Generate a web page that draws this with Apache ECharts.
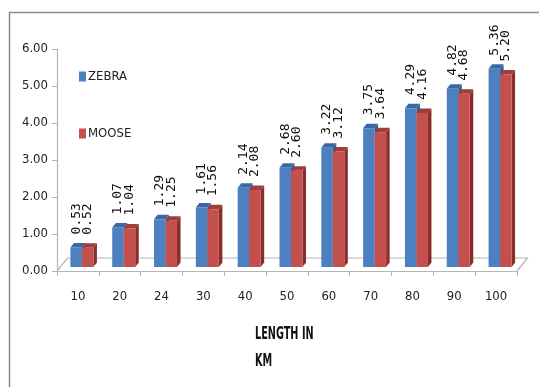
<!DOCTYPE html>
<html>
<head>
<meta charset="utf-8">
<script src="https://cdn.jsdelivr.net/npm/echarts@6/dist/echarts.min.js"></script>
<style>
  html, body { margin: 0; padding: 0; background: #fff; }
  #chart { width: 539px; height: 387px; }
</style>
</head>
<body>
<div id="chart"></div>
<script>
// Distance categories (km) and the two series plotted against them
const categories = ['10', '20', '24', '30', '40', '50', '60', '70', '80', '90', '100'];
const zebra = [0.53, 1.07, 1.29, 1.61, 2.14, 2.68, 3.22, 3.75, 4.29, 4.82, 5.36];
const moose = [0.52, 1.04, 1.25, 1.56, 2.08, 2.60, 3.12, 3.64, 4.16, 4.68, 5.20];
const yTicks = [0, 1, 2, 3, 4, 5, 6];
const axisTitle = ['LENGTH IN', 'KM'];

const NARROW = '"Liberation Sans Narrow", "DejaVu Sans Condensed", "Liberation Sans", sans-serif';

// Face colours for the extruded boxes: front, top, side
const palette = {
  ZEBRA: { front: '#4d80c0', top: '#3a68a6', side: '#2f5a92' },
  MOOSE: { front: '#c4504d', top: '#a03c3a', side: '#8a2c2a' }
};

// Pseudo-3D geometry: bars stand slightly behind the axis plane
const PLANE = [4, -4];     // shift of the bar front plane
const DEPTH = [3.5, -4.5]; // extrusion of each box
const FLOOR = [10.5, -13]; // depth of the floor slab

function barRenderer(seriesName, side) {
  return function (params, api) {
    const i = api.value(0);
    const v = api.value(1);
    const base = api.coord([i, 0]);
    const top = api.coord([i, v]);
    const bw = api.size([1, 0])[0];
    const w = bw * 0.275;
    const cx = base[0] + PLANE[0];
    const x0 = side === 0 ? cx - w : cx;
    const x1 = x0 + w;
    const yb = base[1] + PLANE[1];
    const yt = top[1] + PLANE[1];
    const c = palette[seriesName];
    return {
      type: 'group',
      children: [
        { type: 'polygon', shape: { points: [[x1, yb], [x1 + DEPTH[0], yb + DEPTH[1]], [x1 + DEPTH[0], yt + DEPTH[1]], [x1, yt]] },
          style: { fill: c.side } },
        { type: 'polygon', shape: { points: [[x0, yt], [x0 + DEPTH[0], yt + DEPTH[1]], [x1 + DEPTH[0], yt + DEPTH[1]], [x1, yt]] },
          style: { fill: c.top } },
        { type: 'rect', shape: { x: x0, y: yt, width: w, height: yb - yt },
          style: { fill: c.front } },
        { type: 'text', x: (x0 + x1) / 2, y: yt - 13, rotation: Math.PI / 2,
          style: { text: v.toFixed(2), fill: '#111', font: '13px "DejaVu Sans Mono", monospace',
                   align: 'left', verticalAlign: 'middle' } }
      ]
    };
  };
}

// Floor slab under the bars
function floorRenderer(params, api) {
  const first = api.coord([0, 0]);
  const last = api.coord([categories.length - 1, 0]);
  const bw = api.size([1, 0])[0];
  const xl = first[0] - bw / 2;
  const xr = last[0] + bw / 2;
  const y = first[1];
  return {
    type: 'polyline',
    shape: { points: [[xl, y], [xl + FLOOR[0], y + FLOOR[1]], [xr + FLOOR[0], y + FLOOR[1]], [xr, y]] },
    style: { stroke: '#b4b4b4', lineWidth: 1.2, fill: null }
  };
}

const chart = echarts.init(document.getElementById('chart'), null, { renderer: 'canvas' });

chart.setOption({
  backgroundColor: '#fff',
  animation: false,
  legend: {
    data: ['ZEBRA', 'MOOSE'],
    orient: 'vertical',
    left: 79, top: 70, padding: 0,
    itemWidth: 7, itemHeight: 10, itemGap: 44,
    icon: 'rect',
    textStyle: { fontFamily: NARROW, fontSize: 13, color: '#222', padding: [0, 0, 0, -3] }
  },
  graphic: [
    { type: 'rect', left: 7, top: 10, shape: { width: 545, height: 390 },
      style: { fill: null, stroke: '#8c8c8c', lineWidth: 1.5 }, silent: true, z: -1 },
    // Horizontal axis title, set in a condensed bold face
    { type: 'text', x: 255, y: 334, scaleX: 0.6, silent: true,
      style: { text: axisTitle[0], font: 'bold 18px ' + NARROW, fill: '#111', verticalAlign: 'middle' } },
    { type: 'text', x: 255, y: 361, scaleX: 0.6, silent: true,
      style: { text: axisTitle[1], font: 'bold 18px ' + NARROW, fill: '#111', verticalAlign: 'middle' } }
  ],
  grid: { left: 57, right: 22, top: 49, bottom: 116 },
  xAxis: {
    type: 'category',
    data: categories,
    axisLine: { lineStyle: { color: '#b4b4b4', width: 1.2 } },
    axisTick: { show: true, alignWithLabel: false, length: 5, lineStyle: { color: '#b4b4b4' } },
    axisLabel: { margin: 19, fontFamily: NARROW, fontSize: 13, color: '#222' }
  },
  yAxis: {
    type: 'value',
    min: yTicks[0], max: yTicks[yTicks.length - 1], interval: 1,
    axisLine: { show: true, lineStyle: { color: '#b4b4b4', width: 1.2 } },
    axisTick: { show: true, length: 5, lineStyle: { color: '#b4b4b4' } },
    splitLine: { show: false },
    axisLabel: { margin: 9, fontFamily: NARROW, fontSize: 13, color: '#222',
                 formatter: v => v.toFixed(2) }
  },
  series: [
    { name: 'floor', type: 'custom', renderItem: floorRenderer, data: [[0, 0]], silent: true, z: 1 },
    { name: 'ZEBRA', type: 'custom', renderItem: barRenderer('ZEBRA', 0),
      itemStyle: { color: palette.ZEBRA.front },
      encode: { x: 0, y: 1 }, z: 2,
      data: zebra.map((v, i) => [i, v]) },
    { name: 'MOOSE', type: 'custom', renderItem: barRenderer('MOOSE', 1),
      itemStyle: { color: palette.MOOSE.front },
      encode: { x: 0, y: 1 }, z: 3,
      data: moose.map((v, i) => [i, v]) }
  ]
});
</script>
</body>
</html>
